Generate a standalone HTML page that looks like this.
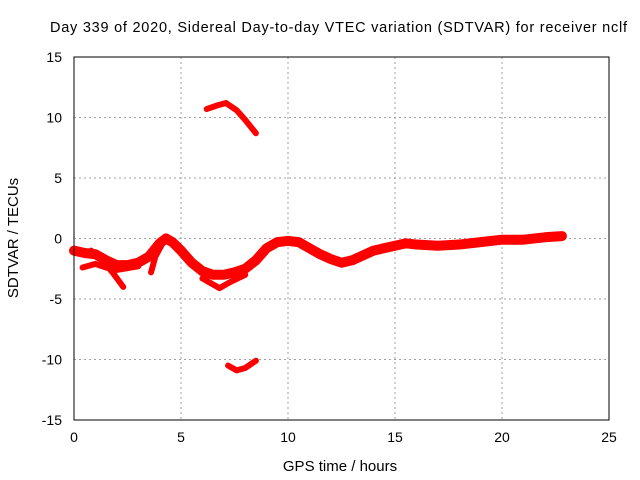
<!DOCTYPE html>
<html><head><meta charset="utf-8"><style>
body{margin:0;background:#fff}
svg{display:block;font-family:"Liberation Sans",sans-serif;font-size:14px}
</style></head><body>
<svg id="c" width="640" height="480">
<text x="50" y="32" textLength="577" lengthAdjust="spacing" style="font-size:14.5px">Day 339 of 2020, Sidereal Day-to-day VTEC variation (SDTVAR) for receiver nclf</text>
<text x="340" y="471" text-anchor="middle" style="font-size:15px">GPS time / hours</text>
<text transform="translate(18,238) rotate(-90)" text-anchor="middle" style="font-size:15px">SDTVAR / TECUs</text>
<g id="grid"></g><g id="marks"></g>
<rect x="74" y="57" width="535" height="363" fill="none" stroke="#000"/>
</svg>
<script>
const xTicks=[0,5,10,15,20,25];
const yTicks=[-15,-10,-5,0,5,10,15];
const mainBand=[[0,-1.0],[0.5,-1.2],[1,-1.3],[1.5,-1.8],[2,-2.2],[2.5,-2.2],[3,-2.0],[3.5,-1.5],[4,-0.4],[4.3,0],[4.6,-0.3],[5,-1.0],[5.5,-2.0],[6,-2.7],[6.5,-3.0],[7,-3.0],[7.5,-2.8],[8,-2.5],[8.5,-1.8],[9,-0.8],[9.5,-0.3],[10,-0.2],[10.5,-0.3],[11,-0.8],[11.5,-1.3],[12,-1.7],[12.5,-2.0],[13,-1.8],[13.5,-1.4],[14,-1.0],[14.5,-0.8],[15,-0.6],[15.5,-0.4],[16,-0.5],[17,-0.6],[18,-0.5],[19,-0.3],[20,-0.1],[21,-0.1],[22,0.1],[22.8,0.2]];
const branchA=[[0.4,-2.4],[1,-2.1],[1.5,-2.4],[2,-2.6],[3,-2.3]];
const branchB=[[0.8,-1.0],[1.3,-1.8],[1.8,-2.8],[2.3,-4.0]];
const branchC=[[3.6,-2.8],[3.8,-1.5],[4.2,-0.2]];
const branchD=[[6,-3.3],[6.5,-3.8],[6.8,-4.1],[7.3,-3.6],[8,-3.0]];
const topArc=[[6.2,10.7],[6.7,11.0],[7.1,11.2],[7.6,10.6],[8,9.8],[8.5,8.7]];
const bottomArc=[[7.2,-10.5],[7.6,-10.9],[8,-10.7],[8.5,-10.1]];
const series=[mainBand,branchA,branchB,branchC,branchD,topArc,bottomArc];
const X=v=>74+v*535/25, Y=v=>238.5-v*363/30;
const NS="http://www.w3.org/2000/svg",svg=document.getElementById('c'),g=document.getElementById('grid'),m=document.getElementById('marks');
function el(t,a,p){const e=document.createElementNS(NS,t);for(const k in a)e.setAttribute(k,a[k]);p.appendChild(e);return e;}
xTicks.forEach(t=>{
 if(t>0&&t<25){const l=el('line',{x1:X(t),x2:X(t),y1:57,y2:420,stroke:'#a0a0a0','stroke-dasharray':'2,3'},g);}
 const tx=el('text',{x:X(t),y:442,'text-anchor':'middle'},svg);tx.textContent=t;
 
 
});
yTicks.forEach(t=>{
 if(t>-15&&t<15){const l=el('line',{x1:74,x2:609,y1:Y(t),y2:Y(t),stroke:'#a0a0a0','stroke-dasharray':'2,3'},g);}
 const tx=el('text',{x:62,y:Y(t)+5,'text-anchor':'end'},svg);tx.textContent=t;
 
 
});
series.forEach((s,i)=>{
 const p=el('polyline',{points:s.map(d=>X(d[0])+','+Y(d[1])).join(' '),fill:'none',stroke:'#ff0000','stroke-width':i==0?10:6,'stroke-linejoin':'round','stroke-linecap':'round'},m);
 
 
});
</script>
</body></html>
